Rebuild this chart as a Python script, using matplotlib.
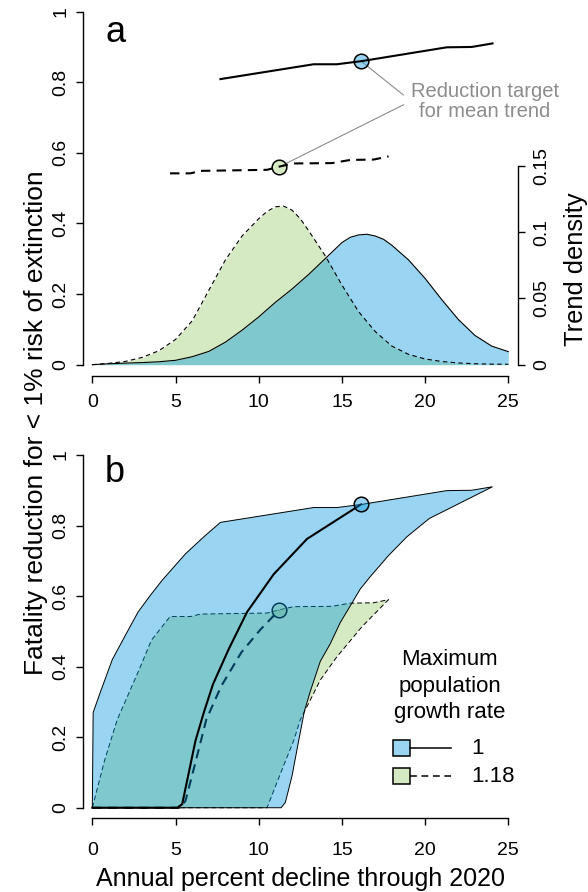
import numpy as np
import matplotlib
matplotlib.use('Agg')
import matplotlib.pyplot as plt
from matplotlib.patches import Rectangle

plt.rcParams['font.family'] = ['Liberation Sans', 'DejaVu Sans']

# panel a: trend density (right axis), r = 1 and r = 1.18
dens1_x = [0, 1, 2, 3, 4, 5, 6, 7, 8, 9, 10, 11, 12, 13, 14, 15, 15.5, 16, 16.5, 17, 17.5, 18, 19, 20, 21, 22, 23, 24, 25]
dens1_y = [0, 0.0007, 0.0012, 0.0016, 0.0022, 0.0033, 0.006, 0.010, 0.017, 0.026, 0.036, 0.047, 0.057, 0.068, 0.080,
           0.092, 0.096, 0.0978, 0.0983, 0.097, 0.0945, 0.090, 0.079, 0.065, 0.049, 0.034, 0.022, 0.014, 0.0098]
dens2_x = [0, 1, 2, 3, 4, 5, 6, 7, 8, 9, 10, 10.5, 11, 11.5, 12, 12.5, 13, 14, 15, 16, 17, 18, 19, 20, 21, 22, 23, 24, 25]
dens2_y = [0, 0.001, 0.0025, 0.0055, 0.0105, 0.019, 0.033, 0.056, 0.079, 0.097, 0.110, 0.1155, 0.119, 0.1195, 0.1165,
           0.110, 0.101, 0.082, 0.060, 0.040, 0.025, 0.014, 0.0078, 0.0043, 0.0024, 0.0013, 0.0007, 0.0004, 0.0003]

# panel b: envelope of fatality reduction, r = 1 (blue)
blue_left_x = [0, 0.05, 0.5, 1.2, 2.0, 2.75, 3.5, 4.2, 5.6, 6.7]
blue_left_y = [0, 0.27, 0.33, 0.42, 0.49, 0.555, 0.603, 0.645, 0.72, 0.768]
blue_top_x = [7.7, 10.5, 13.3, 14.7, 16.2, 21.3, 22.8, 24.05]
blue_top_y = [0.809, 0.83, 0.851, 0.851, 0.86, 0.899, 0.9, 0.91]
blue_right_x = [20.25, 18.9, 17.8, 16.7, 16.1, 15.6, 14.9, 14.3, 13.7, 13.1, 12.75, 12.4, 12.0, 11.6, 11.35]
blue_right_y = [0.82, 0.768, 0.715, 0.655, 0.62, 0.58, 0.525, 0.465, 0.415, 0.33, 0.275, 0.19, 0.09, 0.015, 0]

# r = 1.18 (green)
green_left_x = [0, 0.74, 1.5, 2.8, 3.55]
green_left_y = [0, 0.135, 0.25, 0.39, 0.475]
green_top_x = [4.67, 5.9, 6.5, 10.5, 11.22, 12.1, 14.4, 15.5, 16.9, 17.8]
green_top_y = [0.542, 0.542, 0.549, 0.552, 0.561, 0.570, 0.571, 0.580, 0.581, 0.590]
green_right_x = [16.2, 14.7, 13.7, 13.0, 12.5, 12.1, 11.5, 10.5]
green_right_y = [0.513, 0.428, 0.362, 0.296, 0.25, 0.19, 0.12, 0]

# mean trend curves
mean1_x = [0, 5.1, 5.4, 5.8, 6.2, 6.7, 7.25, 8.2, 9.3, 10.9, 11.9, 12.9, 16.15]
mean1_y = [0, 0, 0.01, 0.10, 0.19, 0.27, 0.35, 0.45, 0.555, 0.662, 0.712, 0.762, 0.86]
mean2_x = [0, 5.3, 5.6, 6.15, 6.85, 7.75, 8.95, 10.1, 11.22]
mean2_y = [0, 0, 0.02, 0.12, 0.25, 0.345, 0.44, 0.505, 0.56]

target_x = [16.15, 11.22]
target_y = [0.86, 0.56]
rates = ['1', '1.18']

blue_c = (0, 0.596, 0.882, 0.4)
green_c = (0.596, 0.792, 0.42, 0.4)
gray = '#8c8c8c'

fig = plt.figure(figsize=(5.88, 8.92), dpi=100)
ax1 = fig.add_axes([0.1417, 0.5785, 0.7388, 0.4203])
ax2 = fig.add_axes([0.1417, 0.0826, 0.7388, 0.435])

for ax in (ax1, ax2):
    ax.set_xlim(-0.541, 25.565)
    for s in ['top', 'right']:
        ax.spines[s].set_visible(False)
    ax.spines['left'].set_bounds(0, 1)
    ax.spines['bottom'].set_bounds(0, 25)
    for s in ['left', 'bottom']:
        ax.spines[s].set_linewidth(1.0)
    ax.set_xticks([0, 5, 10, 15, 20, 25])
    ax.set_xticklabels(['0', '5', '10', '15', '20', '25'])
    ax.set_yticks([0, 0.2, 0.4, 0.6, 0.8, 1])
    ax.set_yticklabels(['0', '0.2', '0.4', '0.6', '0.8', '1'])
    ax.tick_params(direction='out', length=5, width=1, labelsize=14)
    ax.tick_params(axis='y', labelrotation=90, pad=5)
    for t in ax.get_yticklabels():
        t.set_va('center')

ax1.set_ylim(-0.032, 1.03)
ax2.set_ylim(-0.030, 1.07)
ax1.tick_params(axis='x', pad=8)
ax2.tick_params(axis='x', pad=12)

# ---- panel a
k = 353 / 1326.7
tw = ax1.twinx()
tw.set_ylim(-0.032 * k, 1.03 * k)
for s in ['top', 'left', 'bottom']:
    tw.spines[s].set_visible(False)
tw.spines['right'].set_bounds(0, 0.15)
tw.spines['right'].set_linewidth(1.0)
tw.set_yticks([0, 0.05, 0.1, 0.15])
tw.set_yticklabels(['0', '0.05', '0.1', '0.15'])
tw.tick_params(direction='out', length=5, width=1, labelsize=14, pad=6)
tw.tick_params(axis='y', labelrotation=90)
for t in tw.get_yticklabels():
    t.set_va('center')

tw.fill_between(dens2_x, dens2_y, color=green_c, lw=0)
tw.plot(dens2_x, dens2_y, color='k', lw=0.8, ls=(0, (4, 3)))
tw.fill_between(dens1_x, dens1_y, color=blue_c, lw=0)
tw.plot(dens1_x, dens1_y, color='k', lw=0.8)

ann_x = 18.69
ax1.plot([target_x[0], ann_x], [target_y[0], 0.764], color=gray, lw=0.8, zorder=2)
ax1.plot([target_x[1], ann_x], [target_y[1], 0.736], color=gray, lw=0.8, zorder=2)
ax1.text(23.6, 0.7456, 'Reduction target\nfor mean trend', color=gray, fontsize=14.5,
         ha='center', va='center', linespacing=1.1)

ax1.plot(target_x[0], target_y[0], 'o', ms=10.5, mfc=blue_c, mec='k', mew=1.1, zorder=3)
ax1.plot(target_x[1], target_y[1], 'o', ms=10.5, mfc=green_c, mec='k', mew=1.1, zorder=3)
ax1.plot(blue_top_x, blue_top_y, color='k', lw=1.5, zorder=4)
ax1.plot(green_top_x, green_top_y, color='k', lw=1.5, ls=(0, (4.5, 3)), zorder=4)
ax1.text(0.8, 0.914, 'a', fontsize=26, ha='left', va='baseline')

# ---- panel b
gx = np.concatenate([green_left_x, green_top_x, green_right_x])
gy = np.concatenate([green_left_y, green_top_y, green_right_y])
bx = np.concatenate([blue_left_x, blue_top_x, blue_right_x])
by = np.concatenate([blue_left_y, blue_top_y, blue_right_y])

ax2.fill(gx, gy, facecolor=green_c, edgecolor='k', lw=0.7, ls=(0, (5, 3)), zorder=1)
ax2.plot(mean2_x, mean2_y, color='k', lw=1.5, ls=(0, (4.5, 3)), zorder=2)
ax2.plot(target_x[1], target_y[1], 'o', ms=10.5, mfc=green_c, mec='k', mew=1.1, zorder=2)
ax2.fill(bx, by, facecolor=blue_c, edgecolor='k', lw=0.7, zorder=3)
ax2.plot(mean1_x, mean1_y, color='k', lw=1.5, zorder=4)
ax2.plot(target_x[0], target_y[0], 'o', ms=10.5, mfc=blue_c, mec='k', mew=1.1, zorder=5)
ax2.text(0.75, 0.923, 'b', fontsize=26, ha='left', va='baseline')

# legend
ax2.text(21.47, 0.345, 'Maximum\npopulation\ngrowth rate', fontsize=16, ha='center', va='center',
         linespacing=1.37)
leg_y = [0.1684, 0.0899]
leg_c = [blue_c, green_c]
leg_ls = ['-', (0, (4.5, 3))]
for i in range(2):
    ax2.plot([19.09, 21.56], [leg_y[i], leg_y[i]], color='k', lw=1.1, ls=leg_ls[i], zorder=6)
    ax2.add_patch(Rectangle((18.09, leg_y[i] - 0.0225), 1.0, 0.045, facecolor=leg_c[i],
                            edgecolor='k', lw=1.1, zorder=7))
    ax2.text(22.8, leg_y[i], rates[i], fontsize=16, ha='left', va='center')

ax2.set_xlabel('Annual percent decline through 2020', fontsize=18, labelpad=6)

fig.text(36 / 588, 1 - 423 / 892, 'Fatality reduction for < 1% risk of extinction', rotation=90,
         fontsize=19, ha='center', va='center')
fig.text(576 / 588, 1 - 269 / 892, 'Trend density', rotation=90, fontsize=18.3, ha='center', va='center')

fig.savefig('out.png', dpi=100)
